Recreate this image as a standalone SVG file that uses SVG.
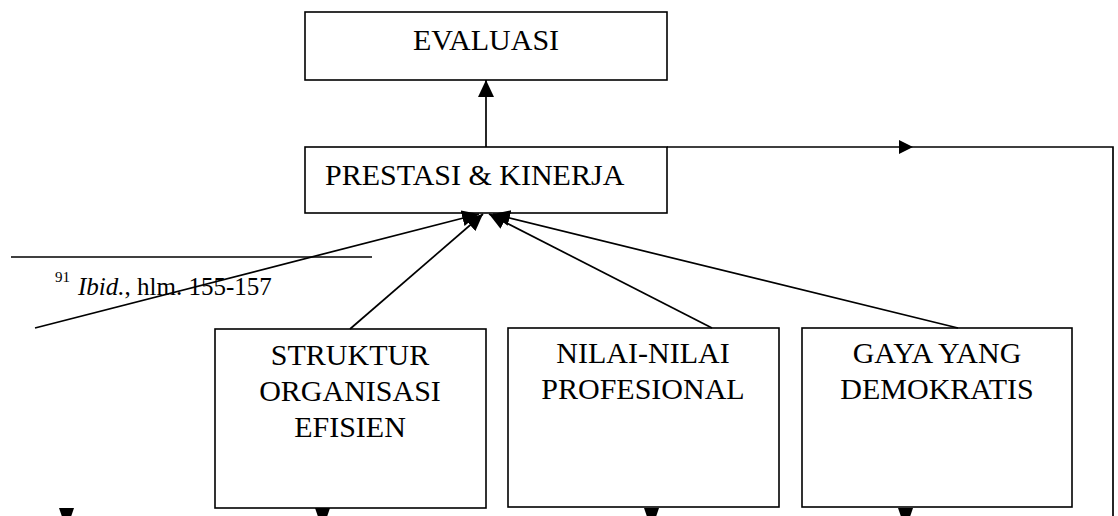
<svg xmlns="http://www.w3.org/2000/svg" width="1118" height="516" viewBox="0 0 1118 516">
<style>
.box{fill:#fff;stroke:#000;stroke-width:1.6}
.ln{fill:none;stroke:#000;stroke-width:1.7}
.t{font-family:"Liberation Serif","Times New Roman",serif;font-size:30px;fill:#000}
.c{text-anchor:middle}
.fn{font-family:"Liberation Serif","Times New Roman",serif;fill:#000}
</style>
<defs>
<marker id="ah" markerUnits="userSpaceOnUse" markerWidth="18" markerHeight="16" refX="17" refY="8" orient="auto">
<path d="M0,0 L17,8 L0,16 z" fill="#000"/>
</marker>
</defs>
<g id="footnote">
<line x1="11" y1="257" x2="372" y2="257" stroke="#000" stroke-width="1.4"/>
<text class="fn" x="55" y="282" style="font-size:15px">91</text>
<text class="fn" x="78" y="295" style="font-size:25px"><tspan font-style="italic">Ibid.</tspan>, hlm. 155-157</text>
</g>
<g id="evaluasi">
<rect class="box" x="305" y="12" width="362" height="68"/>
<text class="t c" x="486" y="50">EVALUASI</text>
</g>
<g id="prestasi">
<rect class="box" x="305" y="147" width="362" height="66"/>
<text class="t" x="325" y="185">PRESTASI &amp; KINERJA</text>
</g>
<g id="struktur">
<rect class="box" x="215" y="329" width="271" height="179"/>
<text class="t c" x="350" y="365">STRUKTUR</text>
<text class="t c" x="350" y="401">ORGANISASI</text>
<text class="t c" x="350" y="437">EFISIEN</text>
</g>
<g id="nilai">
<rect class="box" x="508" y="328" width="271" height="179"/>
<text class="t c" x="643" y="363">NILAI-NILAI</text>
<text class="t c" x="643" y="399">PROFESIONAL</text>
</g>
<g id="gaya">
<rect class="box" x="802" y="328" width="270" height="179"/>
<text class="t c" x="937" y="363">GAYA YANG</text>
<text class="t c" x="937" y="399">DEMOKRATIS</text>
</g>
<g id="connectors">
<line class="ln" x1="35" y1="328" x2="479" y2="214" marker-end="url(#ah)"/>
<line class="ln" x1="350" y1="329" x2="483" y2="214" marker-end="url(#ah)"/>
<line class="ln" x1="712" y1="328" x2="489" y2="214" marker-end="url(#ah)"/>
<line class="ln" x1="958" y1="328" x2="493" y2="214" marker-end="url(#ah)"/>
<line class="ln" x1="486" y1="147" x2="486" y2="80" marker-end="url(#ah)"/>
<polyline class="ln" points="667,147 1113,147 1113,520"/>
<path d="M899,140 L913,147 L899,154 z" fill="#000"/>
<path d="M59,508 L74,508 L68.5,524 L64.5,524 z" fill="#000"/>
<path d="M315,508 L330,508 L324.5,524 L320.5,524 z" fill="#000"/>
<path d="M644,508 L659,508 L653.5,524 L649.5,524 z" fill="#000"/>
<path d="M898,508 L913,508 L907.5,524 L903.5,524 z" fill="#000"/>
</g>
</svg>
